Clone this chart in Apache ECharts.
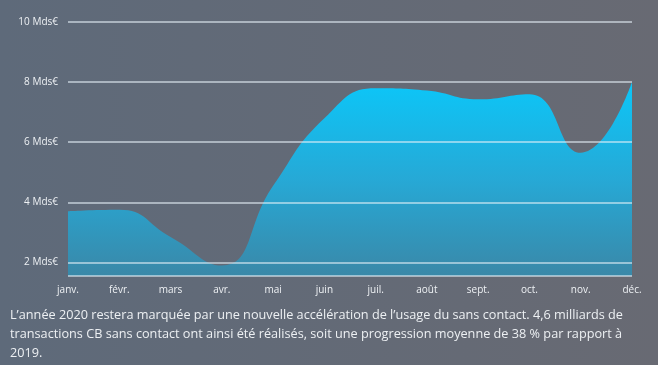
<!DOCTYPE html>
<html><head><meta charset="utf-8">
<script src="https://cdn.jsdelivr.net/npm/echarts@6/dist/echarts.min.js"></script>
<style>html,body{margin:0;padding:0;width:658px;height:365px;overflow:hidden;}
#c{width:658px;height:365px;}</style>
</head><body><div id="c"></div>
<script>
const months = ['janv.','févr.','mars','avr.','mai','juin','juil.','août','sept.','oct.','nov.','déc.'];
const values = [3.7, 3.75, 2.85, 1.9, 4.55, 6.8, 7.8, 7.72, 7.43, 7.6, 5.65, 8.0];
const yTicks = [2, 4, 6, 8, 10];
const caption = [
  "L\u2019année 2020 restera marquée par une nouvelle accélération de l\u2019usage du sans contact. 4,6 milliards de",
  "transactions CB sans contact ont ainsi été réalisés, soit une progression moyenne de 38 % par rapport à",
  "2019."
];
const chart = echarts.init(document.getElementById('c'));
chart.setOption({
  backgroundColor: new echarts.graphic.LinearGradient(0,0,1,0,[{offset:0,color:'#5e6a7a'},{offset:1,color:'#686a73'}]),
  animation:false,
  grid:{left:68,right:26,top:22,bottom:89},
  xAxis:{type:'category',data:months,boundaryGap:false,
    axisLine:{show:false},axisTick:{show:false},
    axisLabel:{color:'#eef1f4',fontSize:10,fontFamily:'Open Sans',margin:9,interval:0}},
  yAxis:{type:'value',min:1.55,max:10,z:5,
    axisLine:{show:false},axisTick:{show:false},
    axisLabel:{color:'#eef1f4',fontSize:10,fontFamily:'Open Sans',margin:10,
      customValues:yTicks, formatter:v=>v+' Mds€'},
    splitLine:{show:true,lineStyle:{color:'rgba(230,240,248,0.75)',width:1.5}},
  },
  series:[{type:'line',data:values,smooth:0.5,symbol:'none',z:2,
    lineStyle:{width:0},
    areaStyle:{opacity:1,color:new echarts.graphic.LinearGradient(0,0,0,1,[{offset:0,color:'#0cc6f8'},{offset:0.5,color:'#26a9d6'},{offset:1,color:'#3a88a8'}])}
  }],
  graphic:[{type:'text',left:10,top:306,style:{text:caption.join('\n'),fill:'#edf0f3',fontSize:12.7,fontFamily:'Open Sans',lineHeight:19}}]
});
</script></body></html>
